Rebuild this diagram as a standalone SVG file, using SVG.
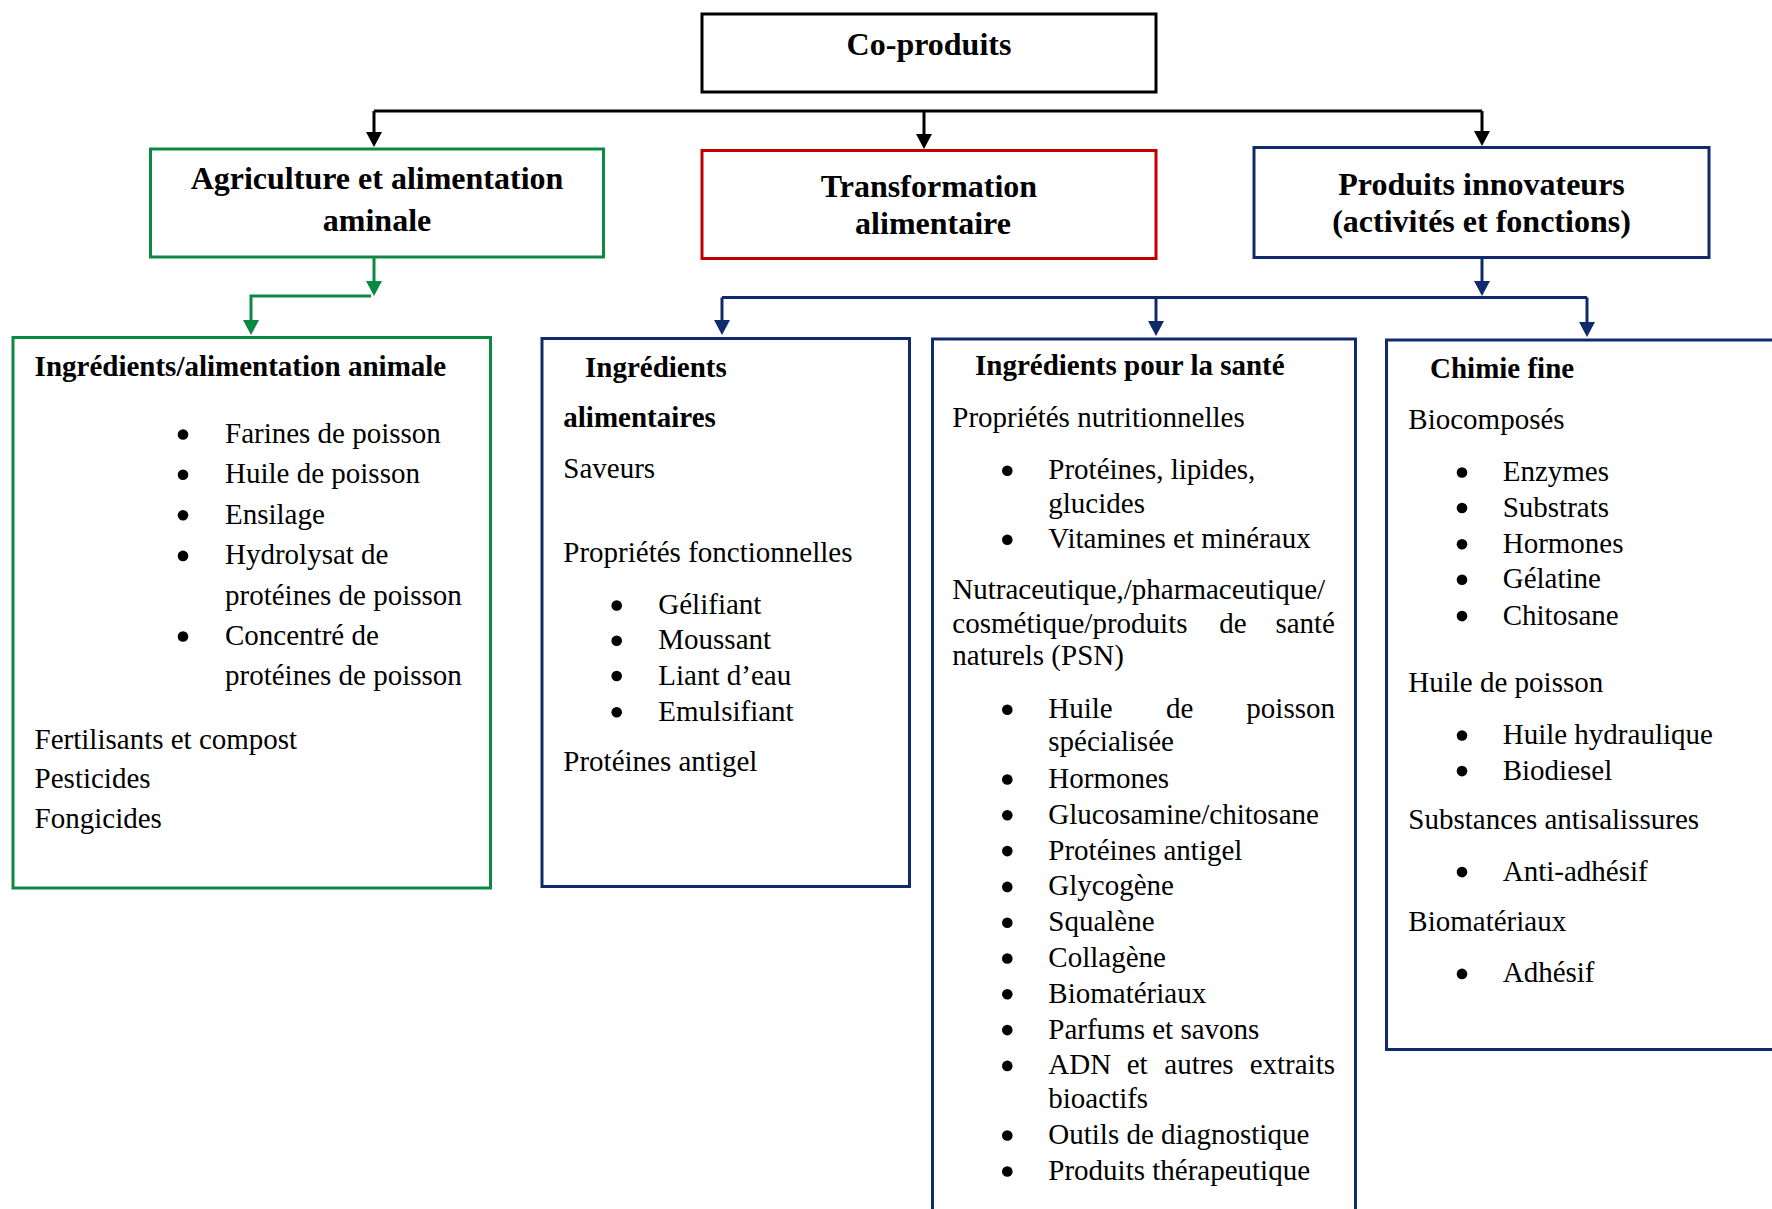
<svg xmlns="http://www.w3.org/2000/svg" width="1772" height="1209" viewBox="0 0 1772 1209">
  <style>
    text { font-family: "Liberation Serif", "Times New Roman", serif; fill: #000; }
    .top { font-size: 32px; font-weight: bold; text-anchor: middle; }
    .hd { font-size: 29px; font-weight: bold; }
    .tx { font-size: 29px; }
    .box { fill: #fff; stroke-width: 3; }
    .k { stroke: #000; }
    .g { stroke: #0a8a40; }
    .r { stroke: #c00000; }
    .b { stroke: #102a6e; }
    .ln { fill: none; stroke-width: 3; }
  </style>
  <defs>
    <marker id="ah-k" viewBox="0 0 15 16" markerWidth="15" markerHeight="16" refX="7" refY="8" orient="auto" markerUnits="userSpaceOnUse">
      <path d="M0,0 L15,8 L0,16 z" fill="#000"/>
    </marker>
    <marker id="ah-g" viewBox="0 0 15 16" markerWidth="15" markerHeight="16" refX="7" refY="8" orient="auto" markerUnits="userSpaceOnUse">
      <path d="M0,0 L15,8 L0,16 z" fill="#0a8a40"/>
    </marker>
    <marker id="ah-b" viewBox="0 0 15 16" markerWidth="15" markerHeight="16" refX="7" refY="8" orient="auto" markerUnits="userSpaceOnUse">
      <path d="M0,0 L15,8 L0,16 z" fill="#102a6e"/>
    </marker>
    <!-- list bullet, centred on its origin -->
    <circle id="dot" cx="0" cy="0" r="5.3" fill="#000"/>
  </defs>

  <!-- connectors -->
  <g id="connectors">
    <!-- root bus -->
    <path class="ln k" d="M374,111 H1482"/>
    <path class="ln k" d="M374,111 V139" marker-end="url(#ah-k)"/>
    <path class="ln k" d="M924,111 V141" marker-end="url(#ah-k)"/>
    <path class="ln k" d="M1482,111 V138" marker-end="url(#ah-k)"/>
    <!-- agriculture branch -->
    <path class="ln g" d="M374,258 V288" marker-end="url(#ah-g)" stroke-width="2.5"/>
    <path class="ln g" d="M371,296 H251 V327" marker-end="url(#ah-g)" stroke-width="3.3"/>
    <!-- innovation bus -->
    <path class="ln b" d="M1482,258 V288" marker-end="url(#ah-b)"/>
    <path class="ln b" d="M722,297.5 H1587"/>
    <path class="ln b" d="M722,297.5 V327" marker-end="url(#ah-b)"/>
    <path class="ln b" d="M1156,297.5 V328" marker-end="url(#ah-b)"/>
    <path class="ln b" d="M1587,297.5 V329" marker-end="url(#ah-b)"/>
  </g>

  <!-- level 0 -->
  <g id="co-produits">
    <rect class="box k" x="702" y="14" width="454" height="78" stroke-width="3.5"/>
    <text class="top" x="929" y="55">Co-produits</text>
  </g>

  <!-- level 1 -->
  <g id="agriculture">
    <rect class="box g" x="150.5" y="149" width="453" height="108"/>
    <text class="top" x="377" y="189">Agriculture et alimentation</text>
    <text class="top" x="377" y="230.5">aminale</text>
  </g>
  <g id="transformation">
    <rect class="box r" x="702" y="150.5" width="454" height="108"/>
    <text class="top" x="929" y="197">Transformation</text>
    <text class="top" x="933" y="233.5">alimentaire</text>
  </g>
  <g id="produits-innovateurs">
    <rect class="box b" x="1254" y="147.5" width="455" height="110"/>
    <text class="top" x="1481.5" y="195">Produits innovateurs</text>
    <text class="top" x="1481.5" y="232">(activités et fonctions)</text>
  </g>

  <!-- level 2 -->
  <g id="alimentation-animale">
    <rect class="box g" x="13" y="337.5" width="477.5" height="550.5"/>
    <text class="hd" x="34.6" y="375.5">Ingrédients/alimentation animale</text>
    <use href="#dot" x="183" y="434.5"/>
    <use href="#dot" x="183" y="474.8"/>
    <use href="#dot" x="183" y="515.2"/>
    <use href="#dot" x="183" y="555.9"/>
    <use href="#dot" x="183" y="636.5"/>
    <text class="tx" x="225" y="443">Farines de poisson</text>
    <text class="tx" x="225" y="483.3">Huile de poisson</text>
    <text class="tx" x="225" y="523.7">Ensilage</text>
    <text class="tx" x="225" y="564.4">Hydrolysat de</text>
    <text class="tx" x="225" y="604.7">protéines de poisson</text>
    <text class="tx" x="225" y="645">Concentré de</text>
    <text class="tx" x="225" y="684.6">protéines de poisson</text>
    <text class="tx" x="34.6" y="748.5">Fertilisants et compost</text>
    <text class="tx" x="34.6" y="788">Pesticides</text>
    <text class="tx" x="34.6" y="827.5">Fongicides</text>
  </g>

  <g id="ingredients-alimentaires">
    <rect class="box b" x="542" y="338.5" width="367.5" height="548"/>
    <text class="hd" x="585" y="376.6">Ingrédients</text>
    <text class="hd" x="563.3" y="427">alimentaires</text>
    <text class="tx" x="563.3" y="477.7">Saveurs</text>
    <text class="tx" x="563.3" y="562">Propriétés fonctionnelles</text>
    <use href="#dot" x="616.7" y="605.5"/>
    <use href="#dot" x="616.7" y="640.7"/>
    <use href="#dot" x="616.7" y="676"/>
    <use href="#dot" x="616.7" y="712.2"/>
    <text class="tx" x="658.3" y="614">Gélifiant</text>
    <text class="tx" x="658.3" y="649.2">Moussant</text>
    <text class="tx" x="658.3" y="684.5">Liant d’eau</text>
    <text class="tx" x="658.3" y="720.7">Emulsifiant</text>
    <text class="tx" x="563.3" y="771.3">Protéines antigel</text>
  </g>

  <g id="ingredients-sante">
    <rect class="box b" x="932.5" y="339" width="423" height="880"/>
    <text class="hd" x="975" y="375">Ingrédients pour la santé</text>
    <text class="tx" x="952.3" y="426.7">Propriétés nutritionnelles</text>
    <use href="#dot" x="1007.3" y="470.8"/>
    <use href="#dot" x="1007.3" y="539.8"/>
    <text class="tx" x="1048.3" y="479.3">Protéines, lipides,</text>
    <text class="tx" x="1048.3" y="512.7">glucides</text>
    <text class="tx" x="1048.3" y="548.3">Vitamines et minéraux</text>
    <text class="tx" x="952.3" y="599.3">Nutraceutique,/pharmaceutique/</text>
    <text class="tx" y="633.3"><tspan x="952.3">cosmétique/produits</tspan><tspan x="1219.3">de</tspan><tspan x="1335" text-anchor="end">santé</tspan></text>
    <text class="tx" x="952.3" y="665">naturels (PSN)</text>
    <use href="#dot" x="1007.3" y="709.8"/>
    <text class="tx" y="718.3"><tspan x="1048.3">Huile</tspan><tspan x="1166">de</tspan><tspan x="1335" text-anchor="end">poisson</tspan></text>
    <text class="tx" x="1048.3" y="750.7">spécialisée</text>
    <use href="#dot" x="1007.3" y="779.5"/>
    <use href="#dot" x="1007.3" y="815.3"/>
    <use href="#dot" x="1007.3" y="851.1"/>
    <use href="#dot" x="1007.3" y="886.9"/>
    <use href="#dot" x="1007.3" y="922.7"/>
    <use href="#dot" x="1007.3" y="958.5"/>
    <use href="#dot" x="1007.3" y="994.3"/>
    <use href="#dot" x="1007.3" y="1030.1"/>
    <use href="#dot" x="1007.3" y="1065.9"/>
    <use href="#dot" x="1007.3" y="1135.5"/>
    <use href="#dot" x="1007.3" y="1171.5"/>
    <text class="tx" x="1048.3" y="788">Hormones</text>
    <text class="tx" x="1048.3" y="823.8">Glucosamine/chitosane</text>
    <text class="tx" x="1048.3" y="859.6">Protéines antigel</text>
    <text class="tx" x="1048.3" y="895.4">Glycogène</text>
    <text class="tx" x="1048.3" y="931.2">Squalène</text>
    <text class="tx" x="1048.3" y="967">Collagène</text>
    <text class="tx" x="1048.3" y="1002.8">Biomatériaux</text>
    <text class="tx" x="1048.3" y="1038.6">Parfums et savons</text>
    <text class="tx" y="1074.4"><tspan x="1048.3">ADN</tspan><tspan x="1126.7">et</tspan><tspan x="1164.3">autres</tspan><tspan x="1335" text-anchor="end">extraits</tspan></text>
    <text class="tx" x="1048.3" y="1107.5">bioactifs</text>
    <text class="tx" x="1048.3" y="1144">Outils de diagnostique</text>
    <text class="tx" x="1048.3" y="1180">Produits thérapeutique</text>
  </g>

  <g id="chimie-fine">
    <rect class="box b" x="1386.5" y="340" width="400" height="709.5"/>
    <text class="hd" x="1430" y="378.2">Chimie fine</text>
    <text class="tx" x="1408.3" y="429">Biocomposés</text>
    <use href="#dot" x="1462" y="472.5"/>
    <use href="#dot" x="1462" y="508"/>
    <use href="#dot" x="1462" y="544.2"/>
    <use href="#dot" x="1462" y="579.8"/>
    <use href="#dot" x="1462" y="616.1"/>
    <text class="tx" x="1502.7" y="481">Enzymes</text>
    <text class="tx" x="1502.7" y="516.5">Substrats</text>
    <text class="tx" x="1502.7" y="552.7">Hormones</text>
    <text class="tx" x="1502.7" y="588.3">Gélatine</text>
    <text class="tx" x="1502.7" y="624.6">Chitosane</text>
    <text class="tx" x="1408.3" y="692">Huile de poisson</text>
    <use href="#dot" x="1462" y="735.5"/>
    <use href="#dot" x="1462" y="771.1"/>
    <text class="tx" x="1502.7" y="744">Huile hydraulique</text>
    <text class="tx" x="1502.7" y="779.6">Biodiesel</text>
    <text class="tx" x="1408.3" y="828.8">Substances antisalissures</text>
    <use href="#dot" x="1462" y="872.1"/>
    <text class="tx" x="1502.7" y="880.6">Anti-adhésif</text>
    <text class="tx" x="1408.3" y="931">Biomatériaux</text>
    <use href="#dot" x="1462" y="973.9"/>
    <text class="tx" x="1502.7" y="982.4">Adhésif</text>
  </g>
</svg>
